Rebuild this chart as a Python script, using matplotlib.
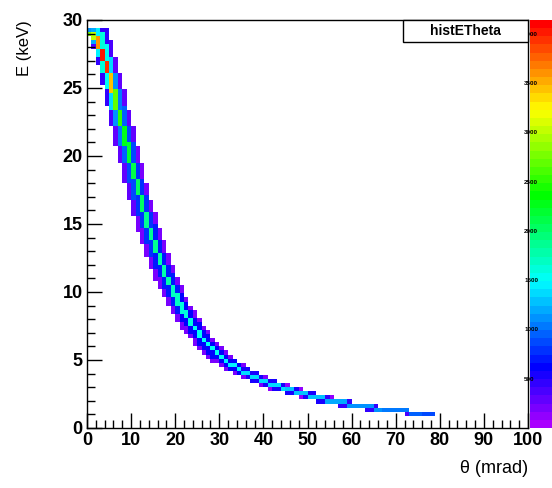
import colorsys
import numpy as np
import matplotlib
matplotlib.use('Agg')
import matplotlib.pyplot as plt
from matplotlib.colors import ListedColormap
from matplotlib.patches import Rectangle

# band ridge: E (keV) read at theta = 0.5, 1.5, ... 78.5 mrad
ridge_E = [
    29.00, 28.85, 28.32, 27.53, 26.54, 25.39, 24.14, 22.83, 21.50, 20.17,
    18.88, 17.63, 16.45, 15.34, 14.29, 13.32, 12.42, 11.59, 10.82, 10.12,
    9.47, 8.87, 8.32, 7.81, 7.34, 6.91, 6.51, 6.15, 5.81, 5.52,
    5.25, 5.00, 4.77, 4.56, 4.35, 4.17, 3.99, 3.83, 3.68, 3.53,
    3.39, 3.26, 3.14, 3.03, 2.92, 2.82, 2.72, 2.64, 2.55, 2.46,
    2.37, 2.28, 2.20, 2.13, 2.06, 1.99, 1.92, 1.86, 1.80, 1.74,
    1.69, 1.64, 1.59, 1.54, 1.50, 1.46, 1.41, 1.37, 1.34, 1.30,
    1.26, 1.23, 1.20, 1.17, 1.14, 1.11, 1.08, 1.05, 1.03,
]
# counts in the centre of the band for each theta column
peak = [
    2800, 3000, 3600, 4000, 3900, 3400, 2700, 2500, 2300, 2200,
    2100, 2000, 2000, 1900, 1900, 1850, 1800, 1800, 1750, 1700,
    1700, 1650, 1600, 1600, 1550, 1550, 1500, 1500, 1500, 1500,
    1500, 1450, 1450, 1450, 1450, 1400, 1400, 1400, 1400, 1400,
    1400, 1350, 1350, 1350, 1350, 1300, 1300, 1300, 1300, 1300,
    1250, 1250, 1250, 1250, 1200, 1200, 1200, 1200, 1200, 1150,
    1150, 1150, 1150, 1100, 1100, 1100, 1100, 1050, 1050, 1050,
    1000, 1000, 1000, 950, 950, 950, 900, 900, 850,
]
levels = [1.0, 0.4, 0.12, 0.04]
e_spread = 0.1
e_top = 29.4  # upper edge of the band

x_edges = np.arange(0, 101, 1.0)
y_edges = np.linspace(0, 30, 101)
y_mid = 0.5 * (y_edges[:-1] + y_edges[1:])

H = np.zeros((100, 100))
n = len(ridge_E)
for i in range(n):
    up = ridge_E[max(i - 1, 0)]
    dn = ridge_E[min(i + 1, n - 1)]
    slope = (up - dn) / 2
    half = 2.5 * slope + e_spread
    scale = slope + e_spread
    for j, e in enumerate(y_mid):
        dist = abs(e - ridge_E[i])
        if dist > half or e > e_top:
            continue
        idx = min(int(round(dist / scale)), 3)
        if y_edges[j] <= ridge_E[i] < y_edges[j + 1]:
            idx = 0
        H[j, i] = peak[i] * levels[idx]
H = np.ma.masked_equal(H, 0)

# ROOT "pretty" palette: violet -> red
cols = [colorsys.hls_to_rgb(h / 360, 0.5, 1.0) for h in np.linspace(280, 0, 50)]
cmap = ListedColormap(cols)

plt.rcParams['font.family'] = ['Liberation Sans', 'DejaVu Sans']
plt.rcParams['font.weight'] = 'bold'

fig = plt.figure(figsize=(5.52, 4.88), dpi=100)
ax = fig.add_axes([87 / 552, 60 / 488, 441 / 552, 408 / 488])
mesh = ax.pcolormesh(x_edges, y_edges, H, cmap=cmap, vmin=0, vmax=4140)

ax.set_xlim(0, 100)
ax.set_ylim(0, 30)
ax.set_xticks(np.arange(0, 101, 10))
ax.set_xticks(np.arange(0, 101, 2), minor=True)
ax.set_yticks(np.arange(0, 31, 5))
ax.set_yticks(np.arange(0, 31, 1), minor=True)
ax.tick_params(which='both', direction='in', top=False, right=False,
               labelsize=13, width=1)
ax.tick_params(which='major', length=11, pad=3)
ax.tick_params(which='minor', length=6)
for s in ax.spines.values():
    s.set_linewidth(1)
ax.set_xlabel('θ (mrad)', loc='right', fontsize=13, labelpad=8)
ax.set_ylabel('E (keV)', loc='top', fontsize=12, labelpad=22)

cax = fig.add_axes([530 / 552, 60 / 488, 22 / 552, 408 / 488])
cb = fig.colorbar(mesh, cax=cax)
cb.outline.set_visible(False)
cb.set_ticks(np.arange(500, 4001, 500))
cax.tick_params(length=0, labelsize=4.5, pad=-20)

fig.patches.append(Rectangle((403 / 552, 446 / 488), 125 / 552, 22 / 488,
                             transform=fig.transFigure, facecolor='white',
                             edgecolor='black', lw=1, zorder=5))
fig.text(465 / 552, 457 / 488, 'histETheta', ha='center', va='center',
         fontsize=10, zorder=6)

fig.savefig('out.png', dpi=100)
